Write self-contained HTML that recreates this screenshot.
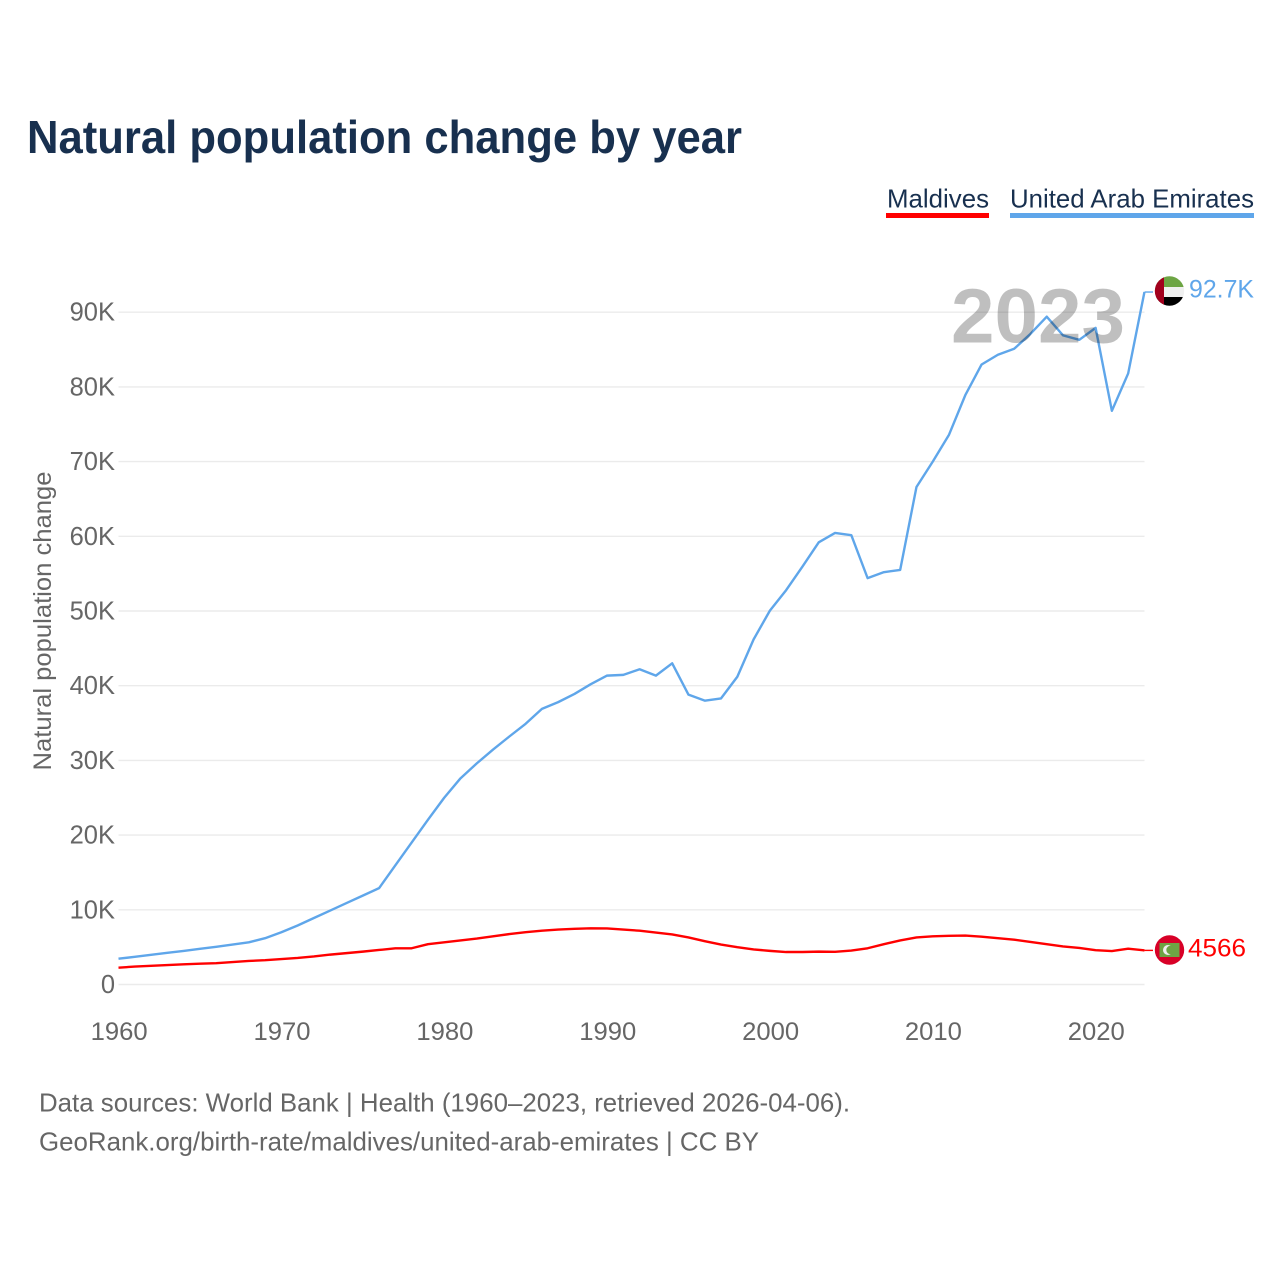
<!DOCTYPE html>
<html lang="en">
<head>
<meta charset="utf-8">
<title>Natural population change by year</title>
<style>
html,body{margin:0;padding:0;background:#fff;width:1280px;height:1280px;overflow:hidden}
svg{display:block;font-family:"Liberation Sans",sans-serif}
</style>
</head>
<body>
<svg id="chart" xmlns="http://www.w3.org/2000/svg" width="1280" height="1280" viewBox="0 0 1280 1280">
  <defs>
    <clipPath id="uae-clip"><circle cx="1169.5" cy="291" r="14.7"/></clipPath>
    <clipPath id="mv-clip"><circle cx="1169.5" cy="950" r="14.7"/></clipPath>
  </defs>
  <rect x="0" y="0" width="1280" height="1280" fill="#fff"/>
  <text x="27" y="153" font-size="46" font-weight="700" fill="#18304f" textLength="715" lengthAdjust="spacingAndGlyphs">Natural population change by year</text>

  <g>
    <g>
      <text x="887" y="207.5" font-size="26" fill="#18304f" textLength="102" lengthAdjust="spacingAndGlyphs">Maldives</text>
      <rect x="886" y="213" width="103" height="5" fill="#ff0000"/>
    </g>
    <g>
      <text x="1010" y="207.5" font-size="26" fill="#18304f" textLength="244" lengthAdjust="spacingAndGlyphs">United Arab Emirates</text>
      <rect x="1010" y="213" width="244" height="5" fill="#5fa6ea"/>
    </g>
  </g>

  <g id="grid"></g>
  <g id="y-ticks"></g>
  <g id="x-ticks"></g>
  <text transform="translate(51,621) rotate(-90)" text-anchor="middle" font-size="25" fill="#666" textLength="299" lengthAdjust="spacingAndGlyphs">Natural population change</text>

  <g id="series"></g>

  <text id="year-watermark" x="1125" y="342.5" text-anchor="end" font-size="77" font-weight="700" fill="#000" fill-opacity="0.25" textLength="174" lengthAdjust="spacingAndGlyphs">2023</text>

  <g clip-path="url(#uae-clip)">
    <rect x="1154" y="276" width="31" height="11" fill="#6da544"/>
    <rect x="1154" y="287" width="31" height="10" fill="#f0f0f0"/>
    <rect x="1154" y="297" width="31" height="10" fill="#000"/>
    <rect x="1154" y="276" width="10" height="31" fill="#a2001d"/>
  </g>
  <g clip-path="url(#mv-clip)">
    <rect x="1154" y="935" width="31" height="31" fill="#d80027"/>
    <rect x="1159.5" y="943" width="20" height="14" fill="#6da544"/>
    <circle cx="1168" cy="950" r="5" fill="#f0f0f0"/>
    <circle cx="1170.5" cy="950" r="4.2" fill="#6da544"/>
  </g>

  <g>
    <text x="39" y="1111.5" font-size="26" fill="#666" textLength="811" lengthAdjust="spacingAndGlyphs">Data sources: World Bank | Health (1960–2023, retrieved 2026-04-06).</text>
    <text x="39" y="1150.5" font-size="26" fill="#666" textLength="720" lengthAdjust="spacingAndGlyphs">GeoRank.org/birth-rate/maldives/united-arab-emirates | CC BY</text>
  </g>
</svg>
<script>
const startYear = 1960;
const yTickValues = [0, 10000, 20000, 30000, 40000, 50000, 60000, 70000, 80000, 90000];
const yTickLabels = ["0", "10K", "20K", "30K", "40K", "50K", "60K", "70K", "80K", "90K"];
const xTickYears = [1960, 1970, 1980, 1990, 2000, 2010, 2020];
const uaeValues = [3450, 3700, 3980, 4240, 4500, 4780, 5050, 5340, 5650, 6200,
  7000, 7900, 8900, 9900, 10900, 11900, 12900, 15950, 19000, 22050,
  25000, 27600, 29600, 31450, 33200, 34900, 36900, 37800, 38900, 40200,
  41350, 41450, 42200, 41350, 43000, 38800, 38000, 38300, 41200, 46200,
  50050, 52800, 55950, 59200, 60450, 60150, 54400, 55200, 55500, 66600,
  70000, 73600, 78900, 83000, 84300, 85100, 87100, 89400, 86900, 86300,
  87900, 76800, 81800, 92700];
const maldivesValues = [2250, 2400, 2500, 2600, 2700, 2780, 2850, 3000, 3150, 3250,
  3400, 3550, 3750, 4000, 4200, 4400, 4620, 4850, 4850, 5400,
  5650, 5900, 6150, 6450, 6750, 7000, 7200, 7350, 7450, 7520,
  7500, 7350, 7200, 6950, 6700, 6300, 5800, 5350, 5000, 4700,
  4500, 4350, 4350, 4400, 4370, 4550, 4850, 5400, 5900, 6300,
  6450, 6520, 6550, 6400, 6200, 6000, 5700, 5400, 5100, 4900,
  4600, 4480, 4800, 4566];
const uaeEndLabel = "92.7K";
const maldivesEndLabel = "4566";

const NS = "http://www.w3.org/2000/svg";
const plotLeft = 118.5, plotRight = 1144.5, pxPerYear = 16.285;
const yZero = 984.5, pxPerUnit = 0.00747;
function xScale(year) { return plotLeft + (year - startYear) * pxPerYear; }
function yScale(value) { return yZero - value * pxPerUnit; }
function node(tag, parent, props) {
  const el = document.createElementNS(NS, tag);
  for (const k in props) el.setAttribute(k, props[k]);
  parent.appendChild(el);
  return el;
}
const gridG = document.getElementById("grid");
const yG = document.getElementById("y-ticks");
const xG = document.getElementById("x-ticks");
const seriesG = document.getElementById("series");

yTickValues.forEach(function (v, i) {
  const line = node("line", gridG, {x1: plotLeft, x2: plotRight, y1: yScale(v), y2: yScale(v), stroke: "#ebebeb", "stroke-width": 1.4});
  
  
  const t = node("text", yG, {x: 115, y: yScale(v) + 8.5, "text-anchor": "end", "font-size": 25.5, fill: "#666"});
  
  
  t.textContent = yTickLabels[i];
});
xTickYears.forEach(function (y) {
  const t = node("text", xG, {x: xScale(y) + 0.7, y: 1040, "text-anchor": "middle", "font-size": 25, fill: "#666", textLength: 57, lengthAdjust: "spacingAndGlyphs"});
  
  
  t.textContent = String(y);
});
function polyPoints(values) {
  return values.map(function (v, i) { return xScale(startYear + i).toFixed(2) + "," + yScale(v).toFixed(2); }).join(" ");
}
const uaeLine = node("polyline", seriesG, {points: polyPoints(uaeValues), fill: "none", stroke: "#5fa6ea", "stroke-width": 2.4, "stroke-linejoin": "round"});


const mvLine = node("polyline", seriesG, {points: polyPoints(maldivesValues), fill: "none", stroke: "#ff0000", "stroke-width": 2.4, "stroke-linejoin": "round"});



const uaeEndY = yScale(uaeValues[uaeValues.length - 1]);
const mvEndY = yScale(maldivesValues[maldivesValues.length - 1]);
const uaeLead = node("line", seriesG, {x1: plotRight, x2: 1153, y1: uaeEndY, y2: uaeEndY, stroke: "#5fa6ea", "stroke-width": 1.4});


const mvLead = node("line", seriesG, {x1: plotRight, x2: 1153, y1: mvEndY, y2: mvEndY, stroke: "#ff0000", "stroke-width": 1.4});


const uaeText = node("text", seriesG, {x: 1189, y: 297.5, "font-size": 25, fill: "#5fa6ea", textLength: 65, lengthAdjust: "spacingAndGlyphs"});


uaeText.textContent = uaeEndLabel;
const mvText = node("text", seriesG, {x: 1188, y: 956.5, "font-size": 25, fill: "#ff0000", textLength: 58, lengthAdjust: "spacingAndGlyphs"});


mvText.textContent = maldivesEndLabel;
</script>
</body>
</html>
